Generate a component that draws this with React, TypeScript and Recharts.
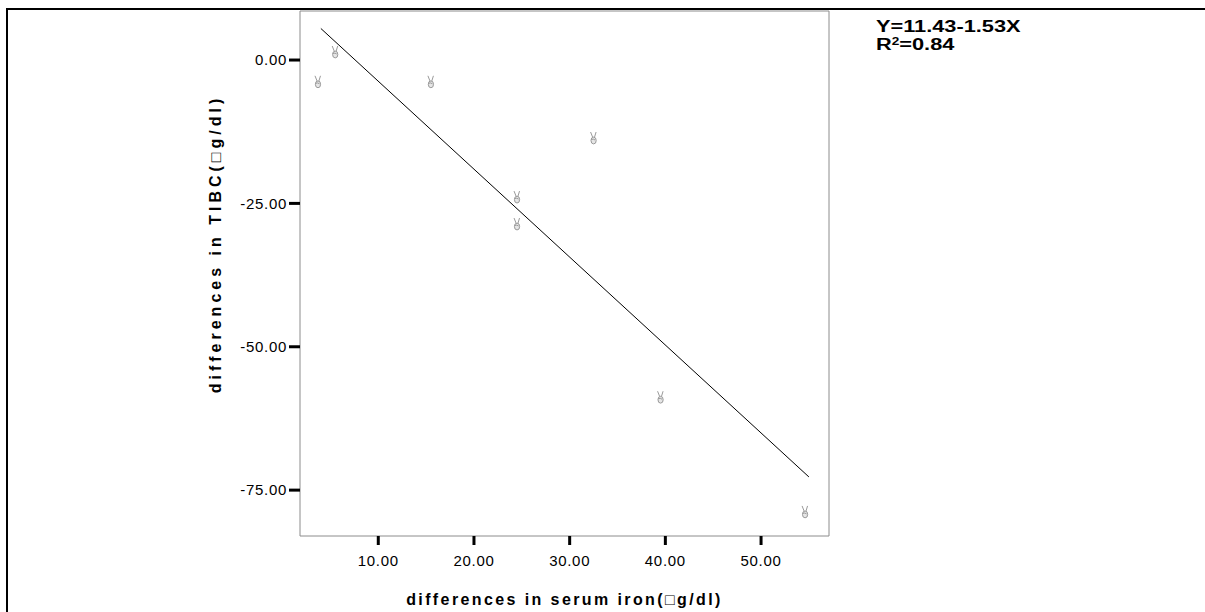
import React from "react";
import { ScatterChart, Scatter, XAxis, YAxis, ReferenceArea, Label } from "recharts";

// Observed points (differences in serum iron vs differences in TIBC)
const ironDiff: number[] = [3.7, 5.5, 15.5, 24.5, 24.5, 32.5, 39.5, 54.6];
const tibcDiff: number[] = [-3.8, 1.4, -3.8, -23.9, -28.6, -13.6, -58.8, -78.8];

// Fitted line endpoints (Y = 11.43 - 1.53X)
const fitX: number[] = [4.0, 55.0];
const fitY: number[] = [5.5, -72.7];

const xTicks: number[] = [10, 20, 30, 40, 50];
const yTicks: number[] = [-75, -50, -25, 0];
const xDomain: [number, number] = [1.82, 57.1];
const yDomain: [number, number] = [-83.0, 8.55];

const equationText = "Y=11.43-1.53X";
const r2Value = "=0.84";
const xTitle = "differences in serum iron(\u25A1g/dl)";
const yTitle = "differences in TIBC(\u25A1g/dl)";

const points = ironDiff.map((x, i) => ({ x, y: tibcDiff[i] }));
const fitLine = fitX.map((x, i) => ({ x, y: fitY[i] }));

const FONT = "'Liberation Sans', Arial, sans-serif";

// small grey "victory hand" style marker
const Marker = (props: any) => {
  const { cx, cy } = props;
  if (cx == null || cy == null) return <g />;
  const c = "#9a9a9a";
  return (
    <g stroke={c} fill="none" strokeWidth={1}>
      <path d={`M${cx - 3},${cy - 6} L${cx - 0.8},${cy - 0.5}`} />
      <path d={`M${cx + 2.5},${cy - 6} L${cx + 0.8},${cy - 0.5}`} />
      <ellipse cx={cx} cy={cy + 2.5} rx={2.6} ry={3.4} fill="#e6e6e6" />
      <path d={`M${cx - 2.6},${cy + 1.5} Q${cx},${cy + 0.5} ${cx + 1.5},${cy + 2}`} />
    </g>
  );
};

const NoShape = () => <g />;

const eqStyle: React.CSSProperties = {
  position: "absolute",
  left: 876,
  fontFamily: FONT,
  fontWeight: "bold",
  fontSize: 16,
  lineHeight: "16px",
  color: "#000",
  whiteSpace: "nowrap",
  transform: "scaleX(1.36)",
  transformOrigin: "0 0",
};

export default function App() {
  return (
    <div
      style={{
        position: "absolute",
        left: 0,
        top: 0,
        width: 1205,
        height: 612,
        overflow: "hidden",
        background: "#fff",
      }}
    >
      <div
        style={{
          position: "absolute",
          left: 6,
          top: 8,
          width: 1400,
          height: 800,
          border: "2px solid #000",
        }}
      />
      <div style={{ position: "absolute", left: 0, top: 0 }}>
        <ScatterChart
          width={1205}
          height={612}
          margin={{ top: 11, right: 376, bottom: 46, left: 240 }}
        >
          <XAxis
            type="number"
            dataKey="x"
            domain={xDomain}
            allowDataOverflow
            ticks={xTicks}
            tickFormatter={(v: number) => v.toFixed(2)}
            axisLine={false}
            tickLine={{ stroke: "#000", strokeWidth: 3 }}
            tickSize={9}
            tickMargin={10}
            height={30}
            tick={{ fill: "#000", fontSize: 15, fontFamily: FONT, letterSpacing: 0.7 }}
          >
            <Label
              content={(p: any) => {
                const vb = p.viewBox || {};
                return (
                  <text
                    x={vb.x + vb.width / 2}
                    y={605}
                    textAnchor="middle"
                    fontSize={16}
                    fontWeight="bold"
                    letterSpacing={2.4}
                    fontFamily={FONT}
                    fill="#000"
                  >
                    {xTitle}
                  </text>
                );
              }}
            />
          </XAxis>
          <YAxis
            type="number"
            dataKey="y"
            domain={yDomain}
            allowDataOverflow
            ticks={yTicks}
            tickFormatter={(v: number) => v.toFixed(2)}
            axisLine={false}
            tickLine={{ stroke: "#000", strokeWidth: 3 }}
            tickSize={11}
            tickMargin={2}
            width={60}
            tick={{ fill: "#000", fontSize: 15, fontFamily: FONT, letterSpacing: 0.7 }}
          >
            <Label
              content={() => (
                <text
                  x={221}
                  y={244}
                  transform="rotate(-90, 221, 244)"
                  textAnchor="middle"
                  fontSize={16}
                  fontWeight="bold"
                  letterSpacing={4}
                  fontFamily={FONT}
                  fill="#000"
                >
                  {yTitle}
                </text>
              )}
            />
          </YAxis>
          <ReferenceArea
            x1={xDomain[0]}
            x2={xDomain[1]}
            y1={yDomain[0]}
            y2={yDomain[1]}
            fill="none"
            fillOpacity={0}
            stroke="#8c8c8c"
            strokeWidth={1}
            ifOverflow="visible"
          />
          <Scatter
            data={fitLine}
            line={{ stroke: "#000", strokeWidth: 1 }}
            shape={NoShape}
            isAnimationActive={false}
          />
          <Scatter data={points} shape={Marker} isAnimationActive={false} />
        </ScatterChart>
      </div>
      <div style={{ ...eqStyle, top: 19 }}>{equationText}</div>
      <div style={{ ...eqStyle, top: 37 }}>
        R
        <span style={{ fontSize: 10, lineHeight: "10px", verticalAlign: "top" }}>2</span>
        {r2Value}
      </div>
    </div>
  );
}
